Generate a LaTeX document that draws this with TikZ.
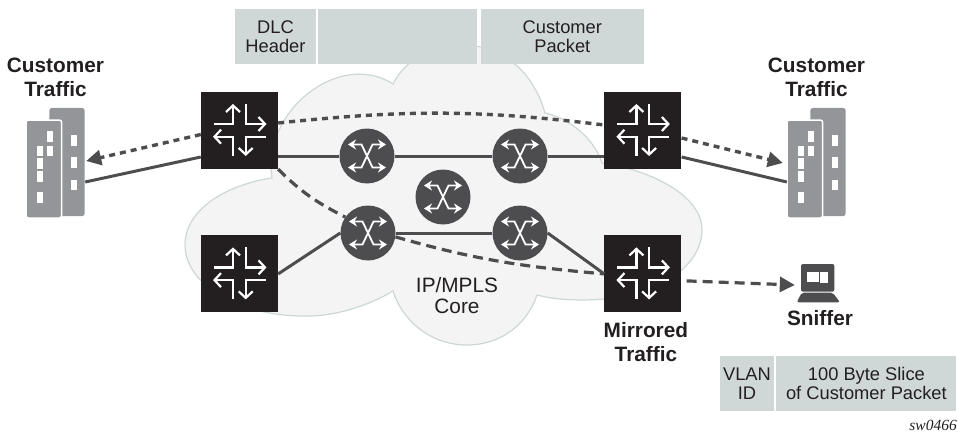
\documentclass[tikz,border=0pt]{standalone}
\usepackage{fontspec}
\setmainfont{Liberation Sans}
\newfontfamily\tagfont{Liberation Serif}
\usetikzlibrary{positioning,arrows.meta}
\definecolor{pktgray}{HTML}{D0D7D7}
\definecolor{cloudfill}{HTML}{F4F4F4}
\definecolor{cloudline}{HTML}{CFD6D6}
\definecolor{routerblack}{HTML}{231F20}
\definecolor{linegray}{HTML}{4D4D4F}
\definecolor{bldgray}{HTML}{939598}
\begin{document}
\begin{tikzpicture}[
		x=1pt, y=1pt,
		text=routerblack,
		routernode/.style={rectangle, fill=routerblack, minimum size=77pt, inner sep=0pt},
		corenode/.style={circle, fill=linegray, minimum size=55pt, inner sep=0pt},
		bldnode/.style={minimum width=59pt, minimum height=110pt, inner sep=0pt},
		snifnode/.style={minimum width=44pt, minimum height=39pt, inner sep=0pt},
		pktbox/.style={fill=pktgray, minimum height=55pt, inner sep=0pt, align=center, font=\fontsize{18.3}{19}\selectfont},
		boldlabel/.style={inner sep=0pt, align=center, font=\fontsize{20.8}{24}\selectfont\bfseries},
		link/.style={draw=linegray, line width=3pt},
		shortdash/.style={draw=linegray, line width=3.4pt, dash pattern=on 6pt off 5pt},
		longdash/.style={draw=linegray, line width=3.2pt, dash pattern=on 10pt off 6pt},
		headtip/.style={-{Triangle[length=15pt,width=15pt]}},
		pics/routericon/.style={code={
			\draw[white, line width=2.2pt, -{Straight Barb[length=6.5pt,width=14pt]}] (-25.5,6.5) -- (-6.5,6.5) -- (-6.5,26.5);
			\draw[white, line width=2.2pt, -{Straight Barb[length=6.5pt,width=14pt]}] (6.2,26.5) -- (6.2,6.5) -- (27,6.5);
			\draw[white, line width=2.2pt, -{Straight Barb[length=6.5pt,width=14pt]}] (-6.5,-25) -- (-6.5,-6.2) -- (-26.5,-6.2);
			\draw[white, line width=2.2pt, -{Straight Barb[length=6.5pt,width=14pt]}] (26,-6.2) -- (6.2,-6.2) -- (6.2,-25.5);
		}},
		pics/crossicon/.style={code={
			\draw[white, line width=1.8pt, {Stealth[length=8pt,width=10pt]}-{Stealth[length=8pt,width=10pt]}] (-19,11.5) -- (-5.5,11.5) -- (5.5,-11.5) -- (19,-11.5);
			\draw[white, line width=1.8pt, {Stealth[length=8pt,width=10pt]}-{Stealth[length=8pt,width=10pt]}] (-19,-11.5) -- (-5.5,-11.5) -- (5.5,11.5) -- (19,11.5);
		}},
		pics/buildingicon/.style={code={
			\fill[bldgray, rounded corners=2.5pt] (-6.2,-53) rectangle (29.2,55);
			\filldraw[fill=bldgray, draw=white, line width=1.5pt, rounded corners=2.5pt] (-29.5,-55) rectangle (6.2,43);
			\foreach \wx/\wy in {18.5/22.5, 18.5/0.5, 18.5/-22, -5.2/26.7, -5.2/12.2, -15.8/12, -15.8/-0.3, -15.8/-13.3, -15.8/-34.5}
				\fill[white] (\wx-3,\wy-5.25) rectangle ++(6,10.5);
		}},
		pics/sniffericon/.style={code={
			\fill[linegray, rounded corners=2pt] (-17,-8.7) rectangle (16.3,19);
			\fill[white] (-11.3,0.7) rectangle (1,11.3);
			\fill[white] (2,-0.3) rectangle (9.7,11.3);
			\fill[linegray, rounded corners=2pt] (-16.3,-9.7) -- (14.7,-9.7) -- (22,-19.3) -- (-21.3,-19.3) -- cycle;
		}},
		]
		\useasboundingbox (0,0) rectangle (958,432);
		
		%Cloud
		\filldraw[fill=cloudfill, draw=cloudline, line width=1.2pt]
			(272,254) .. controls (262,322) and (340,382) .. (393,348)
			.. controls (420,402) and (520,407) .. (545,319)
			.. controls (570,314) and (595,292) .. (602,269)
			.. controls (650,262) and (702,237) .. (702,202)
			.. controls (702,167) and (660,137) .. (604,133)
			.. controls (580,131) and (555,132) .. (537,137)
			.. controls (527,107) and (500,87) .. (467,87)
			.. controls (430,87) and (402,112) .. (393,141)
			.. controls (370,127) and (335,115) .. (303,116)
			.. controls (240,116) and (185,147) .. (185,187)
			.. controls (185,222) and (225,247) .. (272,254) -- cycle;
		
		%Nodes
		\node[routernode]  (r1)  at (239.5,301.5)  {};
		\node[routernode]  (r2)  [right=326pt of r1] {};
		\node[routernode]  (r3)  [below=66pt of r1]  {};
		\node[routernode]  (r4)  [below=66pt of r2]  {};
		\node[corenode]    (c1)  at (367,276)  {};
		\node[corenode]    (c2)  at (520,276)  {};
		\node[corenode]    (c3)  at (443,235)  {};
		\node[corenode]    (c4)  at (368,199)  {};
		\node[corenode]    (c5)  at (520,199)  {};
		\node[bldnode]     (bld1) at (55.5,269)  {};
		\node[bldnode]     (bld2) at (816.5,269) {};
		\node[snifnode]    (snif) at (818,149)   {};
		
		\foreach \n in {r1,r2,r3,r4} \pic at (\n) {routericon};
		\foreach \n in {c1,c2,c3,c4,c5} \pic at (\n) {crossicon};
		\foreach \n in {bld1,bld2} \pic at (\n) {buildingicon};
		\pic at (snif) {sniffericon};
		
		%Packet boxes
		\node[pktbox, minimum width=81pt]  (dlc)  at (275.5,395.5) {DLC\\Header};
		\node[pktbox, minimum width=159pt] (mid)  [right=2pt of dlc] {};
		\node[pktbox, minimum width=163pt] (cust) [right=3pt of mid] {Customer\\Packet};
		\node[pktbox, minimum width=54pt]  (vlan) at (747,48.5) {VLAN\\ID};
		\node[pktbox, minimum width=180pt] (slice) [right=2pt of vlan] {100 Byte Slice\\of Customer Packet};
		
		%Labels
		\node[boldlabel]  (lblcl)  [above=11pt of bld1] {Customer\\Traffic};
		\node[boldlabel]  (lblcr)  [above=11pt of bld2] {Customer\\Traffic};
		\node[boldlabel]  (lblm)   [below=10pt of r4, xshift=3pt] {Mirrored\\Traffic};
		\node[boldlabel]  (lbls)   [below=8pt of snif, xshift=2pt] {Sniffer};
		\node[inner sep=0pt, align=center, font=\fontsize{20.8}{21}\selectfont] (core) at (457,136) {IP/MPLS\\Core};
		\node[inner sep=0pt, anchor=base east, font=\fontsize{15.5}{16}\selectfont\tagfont\itshape] (tag) at (957,2) {sw0466};
		
		%Lines
		\draw[link] (c1 -| r1.east) -- (c1);
		\draw[link] (c1) -- (c2);
		\draw[link] (c2) -- (c2 -| r2.west);
		\draw[link] (r3.east) -- (c4.west);
		\draw[link] (c4) -- (c5);
		\draw[link] (c5.east) -- (r4.west);
		\draw[link] ([yshift=-26.5pt]r1.west) -- ([yshift=-19pt]bld1.east);
		\draw[link] ([yshift=-26.5pt]r2.east) -- ([yshift=-19pt]bld2.west);
		
		\draw[shortdash, headtip] ([yshift=-4pt]r1.west) -- ([xshift=1pt,yshift=2pt]bld1.east);
		\draw[shortdash, headtip] ([yshift=-7.5pt]r2.east) -- ([xshift=-4pt]bld2.west);
		\draw[shortdash] ([yshift=7.5pt]r1.east) to[out=6,in=173] ([yshift=5.5pt]r2.west);
		
		\draw[longdash] (r1.south east) to[out=-45,in=153] (c4.145);
		\draw[longdash] (c4.-8) to[out=-16,in=175] (r4.west);
		\draw[longdash, headtip] ([xshift=5pt,yshift=-7pt]r4.east) -- ([xshift=-1pt,yshift=-2pt]snif.west);
\end{tikzpicture}
\end{document}
